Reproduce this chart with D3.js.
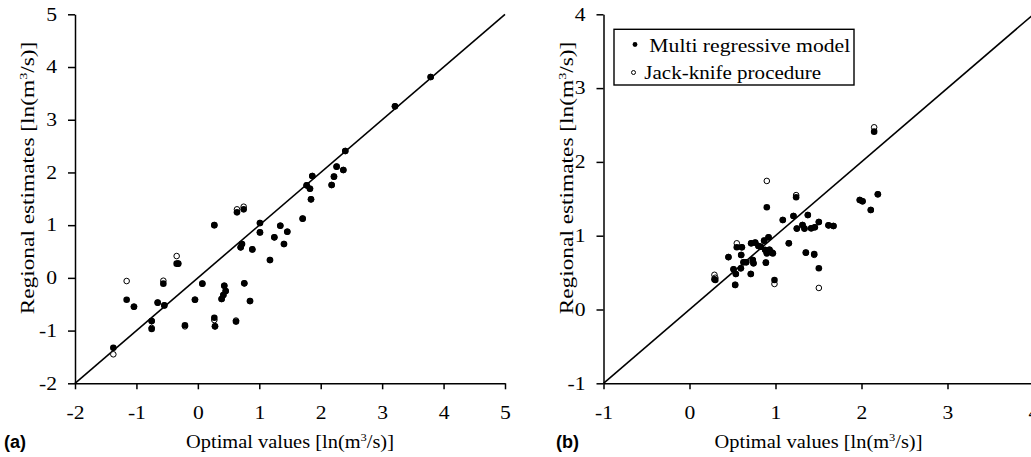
<!DOCTYPE html>
<html>
<head>
<meta charset="utf-8">
<script src="https://cdn.jsdelivr.net/npm/d3@7"></script>
<style>
body { margin: 0; background: #fff; }
svg text { font-family: "Liberation Serif", "Times New Roman", serif; fill: #000; }
</style>
</head>
<body>
<div id="chart"></div>
<script>
// panel (a): optimal values vs regional estimates
let optimalA = [-1.376, -1.159, -1.04, -0.752, -0.752, -0.654, -0.562, -0.546, -0.345, -0.32,
    -0.21, -0.047, 0.073, 0.268, 0.268, 0.279, 0.387, 0.415, 0.453, 0.43,
    0.621, 0.637, 0.746, 0.697, 0.718, 0.756, 0.849, 0.887, 1.011, 1.011,
    1.174, 1.245, 1.342, 1.402, 1.456, 1.706, 1.771, 1.825, 1.842, 1.863,
    2.178, 2.216, 2.259, 2.368, 2.40, 3.209, 3.79];
let multiA = [-1.325, -0.414, -0.547, -0.82, -0.971, -0.47, -0.11, -0.522, 0.27, 0.27,
    -0.90, -0.414, -0.11, 1.0, -0.756, -0.92, -0.40, -0.326, -0.25, -0.149,
    -0.83, 1.243, 1.30, 0.579, 0.642, -0.104, -0.44, 0.54, 1.04, 0.863,
    0.338, 0.769, 0.99, 0.642, 0.876, 1.123, 1.755, 1.692, 1.49, 1.932,
    1.762, 1.92, 2.11, 2.046, 2.407, 3.254, 3.81];
let jackA = [-1.45, -0.06, -0.547, -0.82, -0.95, -0.47, -0.054, -0.522, 0.414, 0.27,
    -0.92, -0.414, -0.11, 1.0, -0.80, -0.92, -0.40, -0.326, -0.25, -0.149,
    -0.81, 1.30, 1.35, 0.579, 0.642, -0.104, -0.44, 0.54, 1.04, 0.863,
    0.338, 0.769, 0.99, 0.642, 0.876, 1.123, 1.755, 1.692, 1.49, 1.932,
    1.762, 1.92, 2.11, 2.046, 2.407, 3.254, 3.81];

// panel (b)
let optimalB = [0.29, 0.30, 0.453, 0.512, 0.531, 0.539, 0.55, 0.597, 0.601, 0.609,
    0.628, 0.659, 0.713, 0.717, 0.736, 0.744, 0.764, 0.802, 0.83, 0.868,
    0.888, 0.899, 0.899, 0.919, 0.93, 0.88, 0.957, 0.969, 0.988, 1.085,
    1.155, 1.209, 1.24, 1.248, 1.314, 1.337, 1.353, 1.376, 1.415, 1.45,
    1.457, 1.504, 1.504, 1.616, 1.674, 1.98, 2.012, 2.108, 2.147, 2.19];
let multiB = [0.41, 0.40, 0.71, 0.545, 0.333, 0.482, 0.843, 0.558, 0.739, 0.843,
    0.64, 0.64, 0.482, 0.897, 0.671, 0.626, 0.906, 0.86, 0.85, 0.933,
    0.635, 1.385, 0.762, 0.978, 0.81, 0.807, 0.77, 0.762, 0.40, 1.213,
    0.897, 1.267, 1.52, 1.096, 1.145, 1.096, 0.77, 1.28, 1.10, 0.752,
    1.114, 1.186, 0.558, 1.14, 1.132, 1.484, 1.466, 1.349, 2.41, 1.561];
let jackB = [0.47, 0.43, 0.71, 0.545, 0.333, 0.482, 0.897, 0.558, 0.739, 0.843,
    0.64, 0.64, 0.482, 0.897, 0.671, 0.626, 0.906, 0.86, 0.85, 0.933,
    0.635, 1.742, 0.762, 0.978, 0.81, 0.807, 0.77, 0.762, 0.346, 1.213,
    0.897, 1.267, 1.55, 1.096, 1.145, 1.096, 0.77, 1.28, 1.10, 0.74,
    1.114, 1.186, 0.292, 1.14, 1.132, 1.484, 1.466, 1.349, 2.469, 1.561];

let ticksA = [-2, -1, 0, 1, 2, 3, 4, 5];
let ticksB = [-1, 0, 1, 2, 3, 4];
let legendLabels = ["Multi regressive model", "Jack-knife procedure"];
let panelLabels = ["(a)", "(b)"];

let svg = d3.select("#chart").append("svg")
    .attr("width", 1031)
    .attr("height", 457);

svg.append("rect").attr("width", 1031).attr("height", 457).style("fill", "#fff");

// the reference font is wider than Times, so glyphs get stretched to the measured width
function stretch(t, x, y, rot, width) {
    let len = t.node().getComputedTextLength();
    t.attr("transform", `translate(${x},${y}) rotate(${rot}) scale(${width / len},1)`);
}

function unitTitle(g, first) {
    let t = g.append("text")
        .style("text-anchor", "middle")
        .style("font-size", "18px");
    t.append("tspan").text(first + " [ln(m");
    t.append("tspan").attr("dy", -7).style("font-size", "11px").text("3");
    t.append("tspan").attr("dy", 7).text("/s)]");
    return t;
}

function panel(opt, multi, jack, ticks, x0, x1, label, labelX, yTitleX) {
    let lo = ticks[0], hi = ticks[ticks.length - 1];
    let x = d3.scaleLinear().domain([lo, hi]).range([x0, x1]);
    let y = d3.scaleLinear().domain([lo, hi]).range([383.3, 14.3]);
    let g = svg.append("g");

    // 1:1 line
    g.append("line")
        .attr("x1", x(lo)).attr("y1", y(lo))
        .attr("x2", x(hi)).attr("y2", y(hi))
        .style("stroke", "#000")
        .style("stroke-width", 1.6);

    let pts = opt.map((v, i) => ({ x: v, m: multi[i], j: jack[i] }));

    g.selectAll(".jack").data(pts).join("circle")
        .attr("class", "jack")
        .attr("cx", d => x(d.x))
        .attr("cy", d => y(d.j))
        .attr("r", 2.8)
        .style("fill", "#fff")
        .style("stroke", "#000")
        .style("stroke-width", 1);

    g.selectAll(".multi").data(pts).join("circle")
        .attr("class", "multi")
        .attr("cx", d => x(d.x))
        .attr("cy", d => y(d.m))
        .attr("r", 3.3)
        .style("fill", "#000");

    let xAxis = g.append("g")
        .attr("transform", `translate(0,${y(lo)})`)
        .call(d3.axisBottom(x).tickValues(ticks).tickSize(6).tickSizeOuter(0).tickFormat(d => String(d)));
    xAxis.selectAll("text")
        .attr("y", 35.7)
        .attr("dy", 0)
        .attr("transform", "scale(1.2,1)");

    let yAxis = g.append("g")
        .attr("transform", `translate(${x(lo)},0)`)
        .call(d3.axisLeft(y).tickValues(ticks).tickSize(7).tickSizeOuter(0).tickFormat(d => String(d)));
    yAxis.selectAll("text")
        .attr("x", 0)
        .attr("transform", "translate(-18,0) scale(1.2,1)");

    g.selectAll(".domain, .tick line")
        .style("stroke", "#000")
        .style("stroke-width", 1.5);
    g.selectAll(".tick text")
        .attr("font-family", null)
        .style("font-size", "18px");
    xAxis.attr("font-family", null).attr("font-size", null);
    yAxis.attr("font-family", null).attr("font-size", null);

    stretch(unitTitle(g, "Optimal values"), (x0 + x1) / 2, 447.5, 0, 208);
    stretch(unitTitle(g, "Regional estimates"), yTitleX, 178, -90, 273);

    g.append("text")
        .attr("x", labelX)
        .attr("y", 447.5)
        .style("font-family", "'Liberation Sans', Arial, sans-serif")
        .style("font-weight", "bold")
        .style("font-size", "18px")
        .text(label);
}

panel(optimalA, multiA, jackA, ticksA, 75, 505, panelLabels[0], 4, 34);
panel(optimalB, multiB, jackB, ticksB, 603.5, 1033.5, panelLabels[1], 556, 573);

// legend in panel (b)
let lg = svg.append("g");
lg.append("rect")
    .attr("x", 614).attr("y", 29.3)
    .attr("width", 240).attr("height", 55.7)
    .style("fill", "#fff")
    .style("stroke", "#000")
    .style("stroke-width", 1.4);
lg.append("circle").attr("cx", 635).attr("cy", 44.5).attr("r", 2.4).style("fill", "#000");
lg.append("circle").attr("cx", 633.5).attr("cy", 72.5).attr("r", 2)
    .style("fill", "#fff").style("stroke", "#000").style("stroke-width", 1);
let l1 = lg.append("text").style("font-size", "18px").text(legendLabels[0]);
stretch(l1, 649.3, 51.7, 0, 201);
let l2 = lg.append("text").style("font-size", "18px").text(legendLabels[1]);
stretch(l2, 644.3, 79.3, 0, 177);
</script>
</body>
</html>
